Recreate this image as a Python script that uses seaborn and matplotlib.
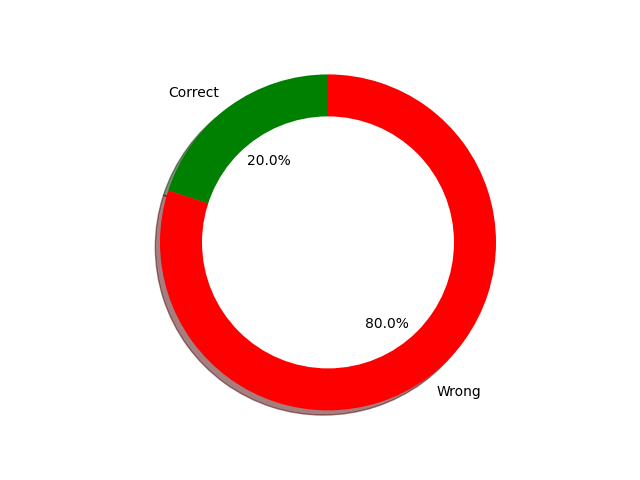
import matplotlib
matplotlib.use('Agg')
import matplotlib.pyplot as plt
import seaborn as sns

labels = ['Correct', 'Wrong']
sizes = [20, 80]
colors = ['green', 'red']

fig = plt.figure(figsize=(6.4, 4.8), dpi=100)
ax = fig.gca()
ax.pie(sizes, labels=labels, colors=sns.color_palette(colors),
       autopct='%1.1f%%', shadow=True, startangle=90)

# white centre turns the pie into a ring
centre_circle = plt.Circle((0, 0), 0.75, fc='white')
ax.add_artist(centre_circle)
plt.axis('equal')

plt.savefig('out.png', dpi=100)
